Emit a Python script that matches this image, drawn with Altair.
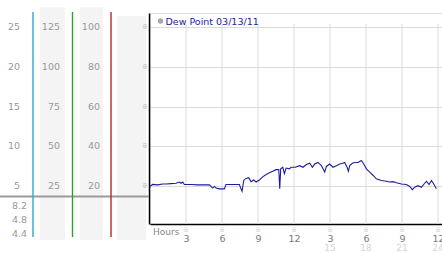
import altair as alt
import pandas as pd

# ---------------- data ----------------
hours = [0.0, 0.22, 0.64, 1.06, 1.34, 1.75, 2.17, 2.45, 2.59, 2.73, 2.86, 3.42, 3.97, 4.53,
         4.95, 5.22, 5.36, 5.5, 5.78, 6.2, 6.33, 6.89, 7.45, 7.53, 7.67, 7.81, 8.0, 8.22,
         8.42, 8.64, 8.84, 9.11, 9.39, 9.67, 9.95, 10.23, 10.5, 10.73, 10.81, 10.89, 11.06,
         11.2, 11.34, 11.61, 11.75, 12.1, 12.47, 12.75, 13.03, 13.31, 13.53, 13.72, 14.0,
         14.28, 14.42, 14.56, 14.7, 14.97, 15.25, 15.53, 15.81, 16.03, 16.22, 16.42, 16.53,
         16.64, 16.86, 17.06, 17.33, 17.61, 17.81, 18.03, 18.31, 18.58, 18.86, 19.28, 19.7,
         19.97, 20.25, 20.53, 20.95, 21.36, 21.64, 21.86, 22.06, 22.33, 22.61, 22.89, 23.03,
         23.25, 23.45, 23.64, 23.86]
dew_point = [5.0, 5.25, 5.2, 5.3, 5.3, 5.35, 5.4, 5.55, 5.4, 5.55, 5.25, 5.25, 5.2, 5.2,
             5.2, 4.8, 5.0, 4.8, 4.7, 4.7, 5.25, 5.25, 5.25, 4.9, 4.4, 5.75, 6.0, 6.1,
             5.6, 5.8, 5.55, 5.8, 6.2, 6.5, 6.7, 6.9, 7.1, 7.1, 4.7, 7.2, 7.4,
             6.6, 7.3, 7.2, 7.4, 7.4, 7.6, 7.4, 7.75, 7.9, 7.4, 7.8, 8.0,
             7.6, 7.2, 6.8, 7.5, 7.8, 7.4, 7.6, 7.8, 7.9, 8.0, 7.4, 6.9,
             7.6, 7.9, 8.0, 8.0, 8.25, 7.8, 7.2, 6.8, 6.4, 5.95, 5.75, 5.65,
             5.55, 5.6, 5.45, 5.3, 5.25, 5.0, 4.6, 4.9, 5.1, 4.9, 5.4, 5.65,
             5.25, 5.75, 5.3, 4.7]

y_ticks = [25, 20, 15, 10, 5]
col1_labels = ["25", "20", "15", "10", "5"]
col2_labels = ["125", "100", "75", "50", "25"]
col3_labels = ["100", "80", "60", "40", "20"]
stat_labels = ["8.2", "4.8", "4.4"]
x_ticks = [3, 6, 9, 12, 15, 18, 21, 24]
pm_ticks = [15, 18, 21, 24]
pm_labels = ["15", "18", "21", "24"]
legend_label = "Dew Point 03/13/11"
x_title = "Hours"

FONT = "DejaVu Sans"
GLYPH_FONT = "Noto Sans CJK JP"

line_df = pd.DataFrame({"h": hours, "v": dew_point})
ytick_df = pd.DataFrame({"v": y_ticks, "c1": col1_labels, "c2": col2_labels, "c3": col3_labels})
xtick_df = pd.DataFrame({"h": x_ticks})
pm_df = pd.DataFrame({"h": pm_ticks, "t": pm_labels})
one = pd.DataFrame({"d": [0]})

xscale = alt.Scale(domain=[0, 24.33], nice=False, zero=False)
yscale = alt.Scale(domain=[0.3, 26.7], nice=False, zero=False)

layers = []

# gray bands behind the left label columns
for x0, x1, y0, y1 in [(-110, -85, -6, 227), (-70, -47, -6, 227), (-33, -4, 3, 227)]:
    layers.append(alt.Chart(one).mark_rect(color="#f4f4f4").encode(
        x=alt.value(x0), x2=alt.value(x1), y=alt.value(y0), y2=alt.value(y1)))

# separator
layers.append(alt.Chart(one).mark_rule(color="#9a9a9a", strokeWidth=2).encode(
    x=alt.value(-150), x2=alt.value(-1), y=alt.value(183.5)))

# coloured column rules
for xv, col in [(-117, "#2fa8d0"), (-77.5, "#2e9e2e"), (-39, "#b02a2a")]:
    layers.append(alt.Chart(one).mark_rule(color=col, stroke=col, strokeWidth=1.4).encode(
        x=alt.value(xv), y=alt.value(-1), y2=alt.value(224)))

# vertical gridlines
layers.append(alt.Chart(xtick_df).mark_rule(color="#dadada", strokeWidth=1).encode(
    x=alt.X("h:Q", scale=xscale), y=alt.value(11), y2=alt.value(211)))

# left columns of labels
for field, xv in [("c1", -130), ("c2", -90), ("c3", -50)]:
    layers.append(alt.Chart(ytick_df).mark_text(
        align="right", baseline="middle", font=FONT, fontSize=9.5, color="#999999").encode(
        y=alt.Y("v:Q", scale=yscale), x=alt.value(xv), text=f"{field}:N"))

# stat labels
for lab, yv in zip(stat_labels, [196, 209.5, 223.5]):
    layers.append(alt.Chart(pd.DataFrame({"t": [lab]})).mark_text(
        align="right", baseline="alphabetic", font=FONT, fontSize=9.5, color="#999999").encode(
        x=alt.value(-123), y=alt.value(yv), text="t:N"))

# tick glyphs
layers.append(alt.Chart(ytick_df).mark_text(
    text="※", font=GLYPH_FONT, fontSize=6, color="#a0a0a0", baseline="middle").encode(
    y=alt.Y("v:Q", scale=yscale), x=alt.value(-5)))
layers.append(alt.Chart(xtick_df).mark_text(
    text="※", font=GLYPH_FONT, fontSize=5.5, color="#a0a0a0", baseline="middle").encode(
    x=alt.X("h:Q", scale=xscale), y=alt.value(217)))

# PM hour row
layers.append(alt.Chart(pm_df).mark_text(
    baseline="alphabetic", font=FONT, fontSize=9, color="#d4d4d4").encode(
    x=alt.X("h:Q", scale=xscale), y=alt.value(238), text="t:N"))

# "Hours"
layers.append(alt.Chart(pd.DataFrame({"t": [x_title]})).mark_text(
    align="left", baseline="alphabetic", font=FONT, fontSize=9, color="#888888").encode(
    x=alt.value(3), y=alt.value(222), text="t:N"))

# legend
layers.append(alt.Chart(one).mark_point(filled=True, size=28, color="#a8a8a8", opacity=1).encode(
    x=alt.value(10.5), y=alt.value(8)))
layers.append(alt.Chart(pd.DataFrame({"t": [legend_label]})).mark_text(
    align="left", baseline="alphabetic", font=FONT, fontSize=9.5, color="#2424a0").encode(
    x=alt.value(15.5), y=alt.value(11.5), text="t:N"))

# main line with axes
main = alt.Chart(line_df).mark_line(color="#1c1c9e", strokeWidth=1.1).encode(
    x=alt.X("h:Q", scale=xscale, title=None,
            axis=alt.Axis(values=x_ticks, grid=False, ticks=False, tickSize=0,
                          domainColor="#000000", domainWidth=1.5,
                          labelExpr="datum.value % 12 == 0 ? '12' : '' + (datum.value % 12)",
                          labelFont=FONT, labelFontSize=9.5, labelColor="#777777",
                          labelBaseline="alphabetic", labelPadding=17.5, labelFlush=False,
                          labelOverlap=False)),
    y=alt.Y("v:Q", scale=yscale, title=None,
            axis=alt.Axis(values=y_ticks, grid=True, gridColor="#dadada", ticks=False, tickSize=0,
                          domainColor="#000000", domainWidth=1.5, offset=1,
                          labelFont=FONT, labelFontSize=9.5, labelColor="#888888",
                          labelPadding=11, labelOverlap=False)),
)
layers.append(main)

chart = alt.layer(*layers).properties(
    width=292, height=211,
    autosize=alt.AutoSizeParams(type="none"),
    padding={"left": 150, "top": 13, "right": 0, "bottom": 29},
).configure_view(stroke=None).configure(background="white")

chart.save("out.html", embed_options={"renderer": "svg", "actions": False})
